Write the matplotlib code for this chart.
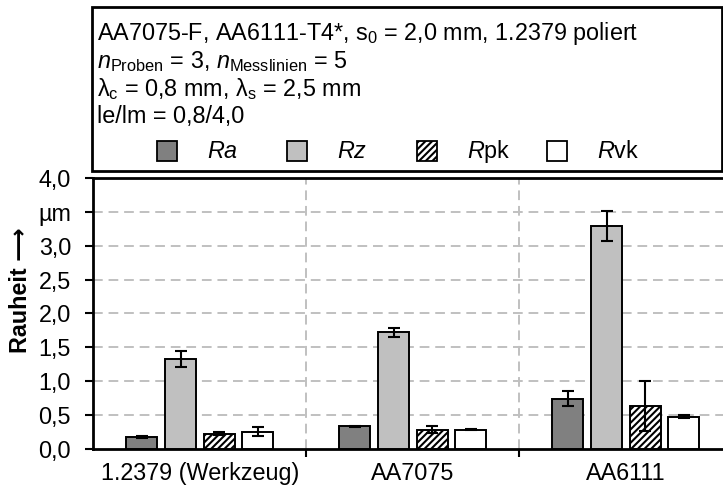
import numpy as np
import matplotlib
matplotlib.use("Agg")
import matplotlib.pyplot as plt
from matplotlib.patches import Rectangle

plt.rcParams['font.family'] = ['Liberation Sans', 'DejaVu Sans']
plt.rcParams['mathtext.fontset'] = 'custom'
plt.rcParams['mathtext.rm'] = 'Liberation Sans'
plt.rcParams['mathtext.it'] = 'Liberation Sans:italic'
plt.rcParams['mathtext.bf'] = 'Liberation Sans:bold'
plt.rcParams['hatch.linewidth'] = 1.5

# Roughness values (µm) with standard deviations
categories = ["1.2379 (Werkzeug)", "AA7075", "AA6111"]
ra = [0.17, 0.33, 0.74]
ra_err = [0.01, 0.01, 0.11]
rz = [1.33, 1.72, 3.29]
rz_err = [0.12, 0.07, 0.22]
rpk = [0.22, 0.28, 0.63]
rpk_err = [0.02, 0.05, 0.37]
rvk = [0.25, 0.28, 0.47]
rvk_err = [0.065, 0.01, 0.02]

series_labels = ["$Ra$", "$Rz$", "$R$pk", "$R$vk"]
y_ticks = [0.0, 0.5, 1.0, 1.5, 2.0, 2.5, 3.0, 3.5, 4.0]
y_ticklabels = ["0,0", "0,5", "1,0", "1,5", "2,0", "2,5", "3,0", "µm", "4,0"]

W, H, DPI = 723, 490, 100
FS = 16.8
fig = plt.figure(figsize=(W / DPI, H / DPI), dpi=DPI)

ax_left, ax_bottom, ax_top = 93.3, 448.5, 178.3
ax = fig.add_axes([ax_left / W, 1 - ax_bottom / H, 1 - ax_left / W, (ax_bottom - ax_top) / H])

styles = [
    dict(color="#808080", hatch=None),
    dict(color="#c0c0c0", hatch=None),
    dict(color="white", hatch="/////"),
    dict(color="white", hatch=None),
]
values = [ra, rz, rpk, rvk]
errors = [ra_err, rz_err, rpk_err, rvk_err]

x = np.arange(len(categories))
pitch = 0.181
width = 0.1455
for i, (vals, errs, st) in enumerate(zip(values, errors, styles)):
    pos = x + (i - 1.5) * pitch
    ax.bar(pos, vals, width, color=st["color"], edgecolor="black", linewidth=1.4,
           hatch=st["hatch"], zorder=3)
    ax.errorbar(pos, vals, yerr=errs, fmt="none", ecolor="black", elinewidth=1.5,
                capsize=4.0, capthick=1.5, zorder=4)

group_px = 213.0
ax.set_xlim(-0.5, -0.5 + (W - ax_left) / group_px)
ax.set_ylim(0, 4.0)

ax.set_yticks(y_ticks)
ax.set_yticklabels(y_ticklabels, fontsize=FS)
ax.set_xticks([0.5, 1.5])
ax.set_xticklabels(["", ""])
ax.set_xticks(x, minor=True)
ax.set_xticklabels(categories, minor=True, fontsize=FS)
ax.tick_params(axis="x", which="minor", length=0, pad=10)
ax.tick_params(axis="x", which="major", length=6, width=1.5, direction="out")
ax.tick_params(axis="y", length=6, width=1.5, direction="out", pad=10)

for yv in y_ticks[1:-1]:
    ax.axhline(yv, color="#c0c0c0", linestyle=(0, (5, 3)), linewidth=1.4, zorder=1)
for xv in [0.5, 1.5]:
    ax.axvline(xv, color="#c0c0c0", linestyle=(0, (5, 3)), linewidth=1.4, zorder=1)

for side in ["left", "bottom", "top"]:
    ax.spines[side].set_linewidth(2.0)
    ax.spines[side].set_color("black")
ax.spines["right"].set_visible(False)

fig.text(21 / W, 1 - 290 / H, "Rauheit ⟶", rotation=90, fontsize=FS, fontweight="bold",
         ha="center", va="center")

# Info box with parameters and series key
box_l, box_t, box_r, box_b = 92.0, 7.0, 722.0, 170.5
fig.patches.append(Rectangle((box_l / W, 1 - box_b / H), (box_r - box_l) / W, (box_b - box_t) / H,
                             transform=fig.transFigure, facecolor="white", edgecolor="black",
                             linewidth=2.0))

lines = [
    "AA7075-F, AA6111-T4*, s$_0$ = 2,0 mm, 1.2379 poliert",
    "$n_\\mathrm{Proben}$ = 3, $n_\\mathrm{Messlinien}$ = 5",
    "λ$_\\mathrm{c}$ = 0,8 mm, λ$_\\mathrm{s}$ = 2,5 mm",
    "le/lm = 0,8/4,0",
]
baselines = [40, 68, 96, 123]
for txt, yb in zip(lines, baselines):
    fig.text(97 / W, 1 - yb / H, txt, fontsize=FS, ha="left", va="baseline")

for i, (lab, st) in enumerate(zip(series_labels, styles)):
    x0 = 157 + 130 * i
    fig.patches.append(Rectangle((x0 / W, 1 - 161 / H), 20 / W, 20 / H, transform=fig.transFigure,
                                 facecolor=st["color"], edgecolor="black", linewidth=1.3,
                                 hatch=st["hatch"]))
    fig.text((x0 + 50) / W, 1 - 158 / H, lab, fontsize=FS, ha="left", va="baseline")

fig.savefig("out.png", dpi=DPI)
